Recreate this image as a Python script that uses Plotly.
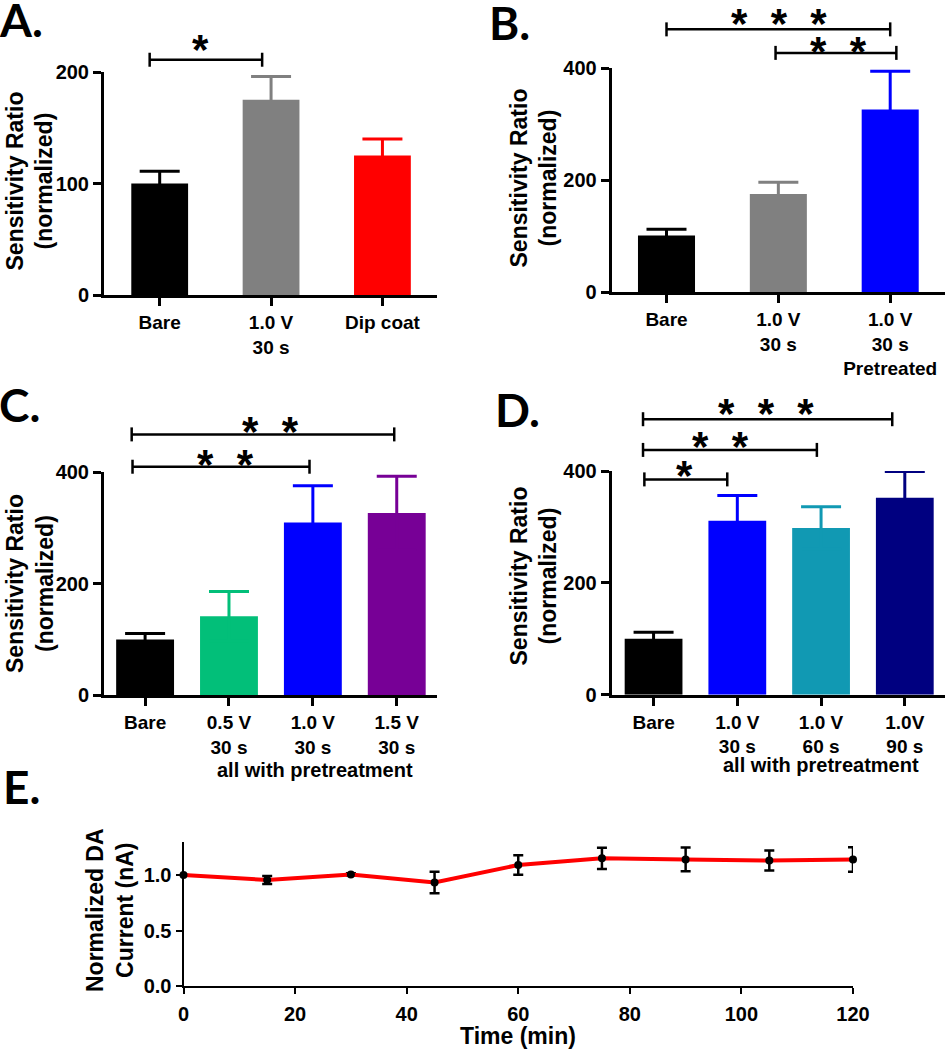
import plotly.graph_objects as go

# ---------------- data ----------------
A_labels = ["Bare", "1.0 V<br>30 s", "Dip coat"]
A_mean = [100, 175, 125]
A_sem = [11, 21, 15]
A_colors = ["#000000", "#808080", "#FF0000"]

B_labels = ["Bare", "1.0 V<br>30 s", "1.0 V<br>30 s<br>Pretreated"]
B_mean = [101, 175, 326]
B_sem = [11, 21, 68]
B_colors = ["#000000", "#808080", "#0000FF"]

C_labels = ["Bare", "0.5 V<br>30 s", "1.0 V<br>30 s", "1.5 V<br>30 s"]
C_mean = [100, 142, 310, 327]
C_sem = [11, 44, 66, 66]
C_colors = ["#000000", "#02BF79", "#0000FF", "#770096"]

D_labels = ["Bare", "1.0 V<br>30 s", "1.0 V<br>60 s", "1.0V<br>90 s"]
D_mean = [100, 311, 298, 352]
D_sem = [11.6, 45, 38, 47]
D_colors = ["#000000", "#0000FF", "#1199B3", "#000080"]

E_time = [0, 15, 30, 45, 60, 75, 90, 105, 120]
E_mean = [1.0, 0.955, 1.005, 0.933, 1.09, 1.15, 1.14, 1.13, 1.14]
E_sem = [0.0, 0.035, 0.01, 0.097, 0.088, 0.095, 0.107, 0.09, 0.11]

# significance comparisons (group i, group j, label)
A_sig = [(0, 1, "*")]
B_sig = [(0, 2, "***"), (1, 2, "**")]
C_sig = [(0, 3, "**"), (0, 2, "**")]
D_sig = [(0, 3, "***"), (0, 2, "**"), (0, 1, "*")]

# ---------------- layout geometry ----------------
W, H = 948, 1050
FONT = "Liberation Sans"
GEOM = {
    "A": dict(i=1, xpx=(104, 437), ypx=(295, 72), xr=(-0.5, 2.49), yr=(0, 200), ticks=[0, 100, 200], bw=0.51),
    "B": dict(i=2, xpx=(611.7, 945), ypx=(292, 68), xr=(-0.49, 2.49), yr=(0, 400), ticks=[0, 200, 400], bw=0.51),
    "C": dict(i=3, xpx=(104, 437), ypx=(695.3, 472.3), xr=(-0.49, 3.48), yr=(0, 400), ticks=[0, 200, 400], bw=0.69),
    "D": dict(i=4, xpx=(611.7, 945), ypx=(694.7, 471), xr=(-0.5, 3.48), yr=(0, 400), ticks=[0, 200, 400], bw=0.69),
    "E": dict(i=5, xpx=(183.5, 853), ypx=(986, 841.7), xr=(0, 120), yr=(0, 1.3)),
}
# bracket placement per comparison: (x0, x1, y level) in data units, star centre (x data, y px)
BRACKETS = {
    "A": [(-0.09, 0.92, 211, 0.37, 40)],
    "B": [(0.0, 2.0, 469, 1.01, 13.5), (0.975, 2.055, 427, 1.54, 41.5)],
    "C": [(-0.16, 2.97, 468, 1.49, 421.5), (-0.15, 1.96, 410, 0.96, 454.5)],
    "D": [(-0.126, 2.85, 492.6, 1.34, 404), (-0.126, 1.95, 437.7, 0.80, 436.5), (-0.11, 0.88, 385, 0.37, 465.5)],
}


def px_x(p, v):
    g = GEOM[p]
    return g["xpx"][0] + (v - g["xr"][0]) / (g["xr"][1] - g["xr"][0]) * (g["xpx"][1] - g["xpx"][0])


def px_y(p, v):
    g = GEOM[p]
    return g["ypx"][0] - (v - g["yr"][0]) / (g["yr"][1] - g["yr"][0]) * (g["ypx"][0] - g["ypx"][1])


fig = go.Figure()
shapes = []
annotations = []

panels = {
    "A": (A_labels, A_mean, A_sem, A_colors, A_sig),
    "B": (B_labels, B_mean, B_sem, B_colors, B_sig),
    "C": (C_labels, C_mean, C_sem, C_colors, C_sig),
    "D": (D_labels, D_mean, D_sem, D_colors, D_sig),
}

axis_common = dict(showline=True, linecolor="black", linewidth=3, ticks="outside", tickcolor="black",
                   tickwidth=3, ticklen=8, showgrid=False, zeroline=False, automargin=False,
                   tickfont=dict(family=FONT, size=20, color="black", weight="bold"))

for p, (labels, mean, sem, colors, sig) in panels.items():
    g = GEOM[p]
    i = g["i"]
    xa, ya = f"x{i}", f"y{i}"
    for k in range(len(mean)):
        fig.add_trace(go.Bar(
            x=[k], y=[mean[k]], width=g["bw"], xaxis=xa, yaxis=ya,
            marker=dict(color=colors[k], line=dict(width=0)),
            error_y=dict(type="data", symmetric=True, array=[sem[k]],
                         color=colors[k], thickness=3, width=20),
            showlegend=False, hoverinfo="skip"))
    xax = dict(axis_common)
    xax["tickfont"] = dict(family=FONT, size=19, color="black", weight="bold")
    fig.layout[f"xaxis{i}"] = dict(
        domain=[g["xpx"][0] / W, g["xpx"][1] / W], range=list(g["xr"]), anchor=ya,
        tickvals=list(range(len(labels))), ticktext=labels, ticklabelstandoff=0, **xax)
    fig.layout[f"yaxis{i}"] = dict(
        domain=[1 - g["ypx"][0] / H, 1 - g["ypx"][1] / H], range=list(g["yr"]), anchor=xa,
        tickvals=g["ticks"], **axis_common)
    # significance brackets
    for (a, b, lab), (x0, x1, yl, sx, sy) in zip(sig, BRACKETS[p]):
        X0, X1, Y = px_x(p, x0) / W, px_x(p, x1) / W, 1 - px_y(p, yl) / H
        tk = 7 / H
        line = dict(color="black", width=2.5)
        shapes.append(dict(type="line", xref="paper", yref="paper", x0=X0, x1=X1, y0=Y, y1=Y, line=line))
        shapes.append(dict(type="line", xref="paper", yref="paper", x0=X0, x1=X0, y0=Y - tk, y1=Y + tk, line=line))
        shapes.append(dict(type="line", xref="paper", yref="paper", x0=X1, x1=X1, y0=Y - tk, y1=Y + tk, line=line))
        fs = 42
        annotations.append(dict(
            text="\u00a0\u00a0".join(list(lab)), xref="paper", yref="paper",
            x=px_x(p, sx) / W, y=1 - sy / H, xanchor="center", yanchor="middle", yshift=-0.23 * fs,
            showarrow=False, font=dict(family=FONT, size=fs, color="black", weight="bold")))

# ---------------- panel E ----------------
gE = GEOM["E"]
fig.add_trace(go.Scatter(
    x=E_time, y=E_mean, xaxis="x5", yaxis="y5", mode="lines+markers",
    line=dict(color="#FF0000", width=4),
    marker=dict(color="black", size=8),
    error_y=dict(type="data", array=E_sem, color="black", thickness=2.5, width=5),
    cliponaxis=False, showlegend=False, hoverinfo="skip"))
axis_E = dict(axis_common)
axis_E.update(linewidth=2, tickwidth=2, ticklen=6)
fig.layout["xaxis5"] = dict(domain=[gE["xpx"][0] / W, gE["xpx"][1] / W], range=list(gE["xr"]), anchor="y5",
                            tickvals=[0, 20, 40, 60, 80, 100, 120], ticklabelstandoff=3, **axis_E)
fig.layout["yaxis5"] = dict(domain=[1 - gE["ypx"][0] / H, 1 - gE["ypx"][1] / H], range=list(gE["yr"]), anchor="x5",
                            tickvals=[0, 0.5, 1.0], tickformat=".1f", **axis_E)

# ---------------- titles / text ----------------
title_font = dict(family=FONT, size=23, color="black", weight="bold")
for (cx, cy, txt) in [(30, 181.5, "Sensitivity Ratio<br>(normalized)"),
                      (533, 178.5, "Sensitivity Ratio<br>(normalized)"),
                      (30, 584, "Sensitivity Ratio<br>(normalized)"),
                      (533, 576.5, "Sensitivity Ratio<br>(normalized)"),
                      (110, 910, "Normalized DA<br>Current (nA)")]:
    annotations.append(dict(text=txt, textangle=-90, xref="paper", yref="paper", x=cx / W, y=1 - cy / H,
                            xanchor="center", yanchor="middle", showarrow=False, font=title_font))

annotations.append(dict(text="Time (min)", xref="paper", yref="paper", x=518 / W, y=1 - 1036 / H,
                        xanchor="center", yanchor="middle", showarrow=False, font=title_font))
for (cx, cy) in [(315, 770), (821, 765)]:
    annotations.append(dict(text="all with pretreatment", xref="paper", yref="paper", x=cx / W, y=1 - cy / H,
                            xanchor="center", yanchor="middle", showarrow=False,
                            font=dict(family=FONT, size=20, color="black", weight="bold")))

letter_font = dict(family="Lato", size=46, color="black", weight="bold")
for (lx, ly, t) in [(-3, 19.5, "A."), (487, 22.5, "B."), (-3, 405, "C."), (493, 410, "D."), (1, 786.5, "E.")]:
    annotations.append(dict(text=t, xref="paper", yref="paper", x=lx / W, y=1 - ly / H,
                            xanchor="left", yanchor="middle", showarrow=False, font=letter_font))

fig.update_layout(width=W, height=H, margin=dict(l=0, r=0, t=0, b=0),
                  paper_bgcolor="white", plot_bgcolor="white",
                  shapes=shapes, annotations=annotations, barmode="overlay")

fig.write_html("out.html", config={"displayModeBar": False},
               post_script="document.body.style.margin='0';document.body.style.overflow='hidden';")
